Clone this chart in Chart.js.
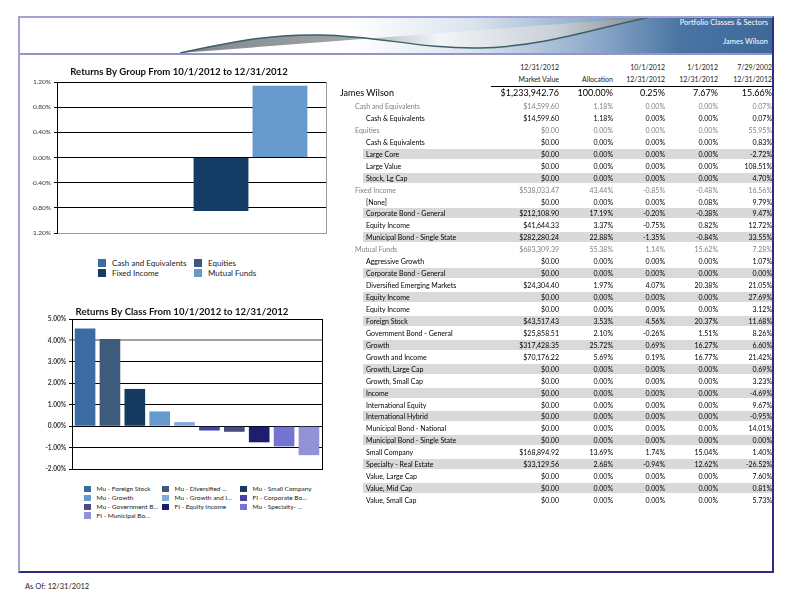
<!DOCTYPE html>
<html>
<head>
<meta charset="utf-8">
<script src="https://cdn.jsdelivr.net/npm/chart.js@4.4.0/dist/chart.umd.min.js"></script>
<style>
  body { margin: 0; width: 792px; height: 612px; position: relative; background: #fff; font-family: Lato, sans-serif; overflow: hidden; }
  #frame { position: absolute; left: 18px; top: 16px; width: 752px; height: 553px;
    border-left: 2px solid #a3a3d3; border-top: 2px solid #a3a3d3; border-right: 2px solid #2d2d86; border-bottom: 2px solid #2d2d86; }
  #banner { position: absolute; left: 20px; top: 18px; width: 752px; height: 35px;
    background: linear-gradient(to right, #fff 0px, #fff 330px, #dbe5ef 450px, #8aa7c8 580px, #4a74a3 660px, #3d6898 752px); }
  #banner svg { position: absolute; left: 0; top: 0; }
  #sep { position: absolute; left: 20px; top: 53px; width: 752px; height: 2px; background: #9494c8; }
  .htxt { position: absolute; right: 4px; color: #fff; font-size: 7.5px; line-height: 10px; }
  canvas { position: absolute; }
  .leg { position: absolute; font-size: 8px; color: #222; white-space: nowrap; line-height: 10px; }
  .leg i { position: absolute; left: 0; top: 1px; width: 8px; height: 8px; }
  .leg span { position: absolute; left: 14px; top: 0; }
  .row { position: absolute; left: 0; width: 792px; height: 10px; line-height: 10px; font-size: 7px; white-space: nowrap; }
  .row .shade { position: absolute; left: 363px; width: 409px; top: 0; height: 10px; background: #d9d9d9; }
  .row span { position: absolute; top: 0; }
  .hd { position: absolute; font-size: 7px; color: #222; line-height: 10px; text-align: right; white-space: nowrap; }
  #asof { position: absolute; left: 25px; top: 582px; font-size: 7.5px; color: #222; }
</style>
</head>
<body>
<div id="frame"></div>
<div id="banner">
  <svg width="752" height="35">
    <defs>
      <linearGradient id="rib" x1="0" x2="1" y1="0" y2="0">
        <stop offset="0" stop-color="#7f8588"/>
        <stop offset="0.35" stop-color="#9da3a6"/>
        <stop offset="0.55" stop-color="#f2f5f8"/>
        <stop offset="0.8" stop-color="#c9d0d6"/>
        <stop offset="1" stop-color="#7f878c"/>
      </linearGradient>
    </defs>
    <path d="M160,35 C220,22 255,16 300,17 C360,18 400,31 460,30 C520,29 570,12 630,-1 L160,35 Z" fill="url(#rib)"/>
    <path d="M160,35 C220,22 255,16 300,17 C360,18 400,31 460,30 C520,29 570,12 630,-1" fill="none" stroke="#3c6068" stroke-width="1.5"/>
  </svg>
  <div class="htxt" style="top:0px">Portfolio Classes &amp; Sectors</div>
  <div class="htxt" style="top:19px">James Wilson</div>
</div>
<div id="sep"></div>

<canvas id="groupChart" width="310" height="178" style="left:20px;top:62px"></canvas>
<canvas id="classChart" width="310" height="177" style="left:20px;top:299px"></canvas>
<div id="legends"></div>
<div id="table"></div>
<div id="asof">As Of: 12/31/2012</div>

<script>
// returns by group, 10/1/2012 - 12/31/2012
const groupNames = ['Cash and Equivalents', 'Equities', 'Fixed Income', 'Mutual Funds'];
const groupReturns = [0.00, 0.00, -0.85, 1.14];
const groupColors = ['#3a6da3', '#3d5a7b', '#143c64', '#6699cc'];
const groupTicks = [-1.2, -0.8, -0.4, 0, 0.4, 0.8, 1.2];

// returns by class
const classNames = ['Mu - Foreign Stock', 'Mu - Diversified ...', 'Mu - Small Company',
  'Mu - Growth', 'Mu - Growth and I...', 'FI - Corporate Bo...',
  'Mu - Government B...', 'FI - Equity Income', 'Mu - Specialty- ...', 'FI - Municipal Bo...'];
const classReturns = [4.56, 4.07, 1.74, 0.69, 0.19, -0.20, -0.26, -0.75, -0.94, -1.35];
const classColors = ['#3b6ba2', '#3e5a7c', '#153b63', '#6699cc', '#80aadb',
  '#4343a6', '#4b4b80', '#1e1e6e', '#7474d4', '#9292d6'];
const classTicks = [-2, -1, 0, 1, 2, 3, 4, 5];

// table
const rowNames = ['James Wilson', 'Cash and Equivalents', 'Cash & Equivalents', 'Equities', 'Cash & Equivalents',
  'Large Core', 'Large Value', 'Stock, Lg Cap', 'Fixed Income', '[None]', 'Corporate Bond - General',
  'Equity Income', 'Municipal Bond - Single State', 'Mutual Funds', 'Aggressive Growth',
  'Corporate Bond - General', 'Diversified Emerging Markets', 'Equity Income', 'Equity Income',
  'Foreign Stock', 'Government Bond - General', 'Growth', 'Growth and Income', 'Growth, Large Cap',
  'Growth, Small Cap', 'Income', 'International Equity', 'International Hybrid',
  'Municipal Bond - National', 'Municipal Bond - Single State', 'Small Company',
  'Specialty - Real Estate', 'Value, Large Cap', 'Value, Mid Cap', 'Value, Small Cap'];
const rowLevels = [0, 1, 2, 1, 2, 2, 2, 2, 1, 2, 2, 2, 2, 1, 2, 2, 2, 2, 2, 2, 2, 2, 2, 2, 2, 2, 2, 2, 2, 2, 2, 2, 2, 2, 2];
const marketValues = ['$1,233,942.76', '$14,599.60', '$14,599.60', '$0.00', '$0.00', '$0.00', '$0.00', '$0.00',
  '$538,033.47', '$0.00', '$212,108.90', '$41,644.33', '$282,280.24', '$683,309.39', '$0.00', '$0.00',
  '$24,304.40', '$0.00', '$0.00', '$43,517.43', '$25,858.51', '$317,428.35', '$70,176.22', '$0.00',
  '$0.00', '$0.00', '$0.00', '$0.00', '$0.00', '$0.00', '$168,894.92', '$33,129.56', '$0.00', '$0.00', '$0.00'];
const allocations = ['100.00%', '1.18%', '1.18%', '0.00%', '0.00%', '0.00%', '0.00%', '0.00%',
  '43.44%', '0.00%', '17.19%', '3.37%', '22.88%', '55.38%', '0.00%', '0.00%', '1.97%', '0.00%', '0.00%',
  '3.53%', '2.10%', '25.72%', '5.69%', '0.00%', '0.00%', '0.00%', '0.00%', '0.00%', '0.00%', '0.00%',
  '13.69%', '2.68%', '0.00%', '0.00%', '0.00%'];
const qtrReturns = ['0.25%', '0.00%', '0.00%', '0.00%', '0.00%', '0.00%', '0.00%', '0.00%',
  '-0.85%', '0.00%', '-0.20%', '-0.75%', '-1.35%', '1.14%', '0.00%', '0.00%', '4.07%', '0.00%', '0.00%',
  '4.56%', '-0.26%', '0.69%', '0.19%', '0.00%', '0.00%', '0.00%', '0.00%', '0.00%', '0.00%', '0.00%',
  '1.74%', '-0.94%', '0.00%', '0.00%', '0.00%'];
const ytdReturns = ['7.67%', '0.00%', '0.00%', '0.00%', '0.00%', '0.00%', '0.00%', '0.00%',
  '-0.48%', '0.08%', '-0.38%', '0.82%', '-0.84%', '15.62%', '0.00%', '0.00%', '20.38%', '0.00%', '0.00%',
  '20.37%', '1.51%', '16.27%', '16.77%', '0.00%', '0.00%', '0.00%', '0.00%', '0.00%', '0.00%', '0.00%',
  '15.04%', '12.62%', '0.00%', '0.00%', '0.00%'];
const sinceReturns = ['15.66%', '0.07%', '0.07%', '55.95%', '0.83%', '-2.72%', '108.51%', '4.70%',
  '16.56%', '9.79%', '9.47%', '12.72%', '33.55%', '7.28%', '1.07%', '0.00%', '21.05%', '27.69%', '3.12%',
  '11.68%', '8.26%', '6.60%', '21.42%', '0.69%', '3.23%', '-4.69%', '9.67%', '-0.95%', '14.01%', '0.00%',
  '1.40%', '-26.52%', '7.60%', '0.81%', '5.73%'];
const colHeads = [['12/31/2012', 'Market Value'], ['', 'Allocation'], ['10/1/2012', '12/31/2012'],
  ['1/1/2012', '12/31/2012'], ['7/29/2002', '12/31/2012']];
const colRight = [559, 613, 665, 718, 772];

function makeChart(id, title, names, values, colors, ticks, o) {
  return new Chart(document.getElementById(id), {
    type: 'bar',
    data: {
      labels: [''],
      datasets: names.map((n, i) => ({ label: n, data: [values[i]], backgroundColor: colors[i], borderWidth: 0 }))
    },
    options: {
      responsive: false,
      animation: false,
      categoryPercentage: o.cat,
      barPercentage: o.bar,
      layout: { padding: { right: o.padRight, left: o.padLeft, top: 0, bottom: 0 } },
      plugins: {
        legend: { display: false },
        tooltip: { enabled: false },
        title: {
          display: true, text: title, color: '#111',
          font: { family: 'Lato', size: 9.6, weight: 'bold' },
          padding: o.titlePad
        }
      },
      scales: {
        x: {
          ticks: { display: false },
          grid: { display: false },
          border: { color: o.frame },
          afterFit(s) { s.height = 0; }
        },
        y: {
          min: ticks[0], max: ticks[ticks.length - 1],
          afterBuildTicks(s) { s.ticks = ticks.map(v => ({ value: v })); },
          ticks: {
            callback: v => v.toFixed(2) + '%',
            color: '#333', padding: 3,
            font: { family: 'Lato', size: 6.5, weight: o.tickWeight }
          },
          grid: {
            color: c => (o.grayAt !== undefined && c.tick && c.tick.value === o.grayAt) ? '#a0a0a0' : '#000',
            lineWidth: c => (o.grayAt !== undefined && c.tick && c.tick.value === o.grayAt) ? 2 : 1,
            tickLength: 3
          },
          border: { color: '#000' },
          afterFit(s) { s.width = o.axisWidth; }
        },
        y2: {
          type: 'linear', position: 'right',
          ticks: { display: false },
          grid: { display: false },
          border: { color: o.frame },
          afterFit(s) { s.width = 0; }
        }
      }
    }
  });
}

makeChart('groupChart', 'Returns By Group From 10/1/2012 to 12/31/2012',
  groupNames, groupReturns, groupColors, groupTicks,
  { cat: 0.877, bar: 0.93, padRight: 4, padLeft: 12, axisWidth: 25, titlePad: { top: 4, bottom: 4.5 },
    tickWeight: 'normal', frame: '#9a9a9a' });

makeChart('classChart', 'Returns By Class From 10/1/2012 to 12/31/2012',
  classNames, classReturns, classColors, classTicks,
  { cat: 0.995, bar: 0.83, padRight: 8, padLeft: 22, axisWidth: 30, titlePad: { top: 7, bottom: 1.5 },
    tickWeight: 'bold', grayAt: 4, frame: '#000' });

// legends
function legend(names, colors, cols, xs, ys, size, fontSize) {
  let html = '';
  names.forEach((n, i) => {
    const x = xs[i % cols], y = ys[Math.floor(i / cols)];
    html += '<div class="leg" style="left:' + x + 'px;top:' + (y - 5) + 'px;font-size:' + fontSize + 'px">' +
      '<i style="background:' + colors[i] + ';width:' + size + 'px;height:' + size + 'px;top:' + (5 - size / 2) + 'px"></i>' +
      '<span style="left:' + (size + 6) + 'px">' + n + '</span></div>';
  });
  return html;
}
document.getElementById('legends').innerHTML =
  legend(groupNames, groupColors, 2, [98, 194], [263, 273], 8, 8) +
  legend(classNames, classColors, 3, [84, 162, 240], [489, 498, 507, 515.5], 6.5, 6.5);

// table
let t = '';
colHeads.forEach((h, j) => {
  t += '<div class="hd" style="right:' + (792 - colRight[j]) + 'px;top:62px">' + h[0] + '</div>';
  t += '<div class="hd" style="right:' + (792 - colRight[j]) + 'px;top:74px">' + h[1] + '</div>';
});
t += '<div style="position:absolute;left:491px;width:281px;top:86px;height:1px;background:#000"></div>';
let sub = 0;
rowNames.forEach((n, i) => {
  const lvl = rowLevels[i];
  const cy = i === 0 ? 93 : 106 + (i - 1) * 11.94;
  if (lvl < 2) sub = 0; else sub++;
  const color = lvl === 1 ? '#808080' : '#000';
  const fs = lvl === 0 ? 9 : 7;
  const left = [340, 355, 366][lvl];
  t += '<div class="row" style="top:' + (cy - 5) + 'px;color:' + color + ';font-size:' + fs + 'px">';
  if (lvl === 2 && sub % 2 === 0) t += '<div class="shade"></div>';
  t += '<span style="left:' + left + 'px">' + n + '</span>';
  [marketValues, allocations, qtrReturns, ytdReturns, sinceReturns].forEach((arr, j) => {
    t += '<span style="right:' + (792 - colRight[j]) + 'px">' + arr[i] + '</span>';
  });
  t += '</div>';
});
document.getElementById('table').innerHTML = t;
</script>
</body>
</html>
